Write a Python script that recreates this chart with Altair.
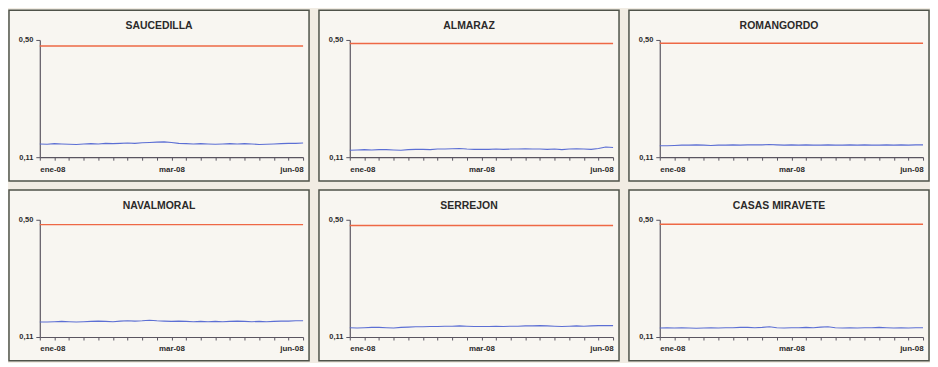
import altair as alt
import pandas as pd

# ---------------- data ----------------
stations = ["SAUCEDILLA", "ALMARAZ", "ROMANGORDO",
            "NAVALMORAL", "SERREJON", "CASAS MIRAVETE"]

# red limit line per station
limit_values = [0.480, 0.488, 0.489, 0.484, 0.481, 0.485]

# blue series: one reading every 5 days, ene-08 .. jun-08
day_step = 5
saucedilla = [0.154, 0.153, 0.155, 0.154, 0.153, 0.152, 0.154, 0.155, 0.154, 0.156,
              0.155, 0.156, 0.157, 0.156, 0.158, 0.159, 0.160, 0.161, 0.159, 0.156,
              0.155, 0.154, 0.155, 0.154, 0.153, 0.154, 0.155, 0.154, 0.155, 0.154,
              0.152, 0.153, 0.154, 0.155, 0.156, 0.156, 0.157]
almaraz = [0.133, 0.134, 0.135, 0.134, 0.135, 0.135, 0.134, 0.133, 0.135, 0.136,
           0.136, 0.135, 0.137, 0.137, 0.138, 0.139, 0.137, 0.136, 0.136, 0.136,
           0.137, 0.136, 0.137, 0.137, 0.138, 0.137, 0.137, 0.136, 0.137, 0.135,
           0.137, 0.138, 0.137, 0.136, 0.139, 0.144, 0.142]
romangordo = [0.148, 0.148, 0.149, 0.150, 0.150, 0.151, 0.150, 0.149, 0.150, 0.150,
              0.151, 0.150, 0.151, 0.151, 0.151, 0.152, 0.151, 0.150, 0.151, 0.150,
              0.151, 0.150, 0.150, 0.151, 0.150, 0.150, 0.151, 0.150, 0.151, 0.150,
              0.150, 0.151, 0.150, 0.151, 0.150, 0.151, 0.151]
navalmoral = [0.160, 0.160, 0.161, 0.162, 0.161, 0.160, 0.161, 0.162, 0.163, 0.162,
              0.161, 0.163, 0.164, 0.163, 0.164, 0.166, 0.164, 0.163, 0.162, 0.163,
              0.162, 0.161, 0.162, 0.161, 0.162, 0.161, 0.162, 0.163, 0.162, 0.161,
              0.162, 0.161, 0.162, 0.163, 0.163, 0.164, 0.164]
serrejon = [0.141, 0.140, 0.141, 0.142, 0.142, 0.141, 0.140, 0.142, 0.143, 0.144,
            0.144, 0.145, 0.145, 0.146, 0.146, 0.147, 0.146, 0.145, 0.145, 0.145,
            0.146, 0.145, 0.146, 0.146, 0.147, 0.147, 0.148, 0.147, 0.146, 0.145,
            0.146, 0.147, 0.146, 0.147, 0.148, 0.148, 0.148]
casas_miravete = [0.140, 0.141, 0.140, 0.141, 0.140, 0.139, 0.140, 0.141, 0.140, 0.141,
                  0.141, 0.142, 0.142, 0.141, 0.142, 0.144, 0.141, 0.140, 0.141, 0.141,
                  0.142, 0.141, 0.143, 0.144, 0.141, 0.140, 0.141, 0.140, 0.141, 0.141,
                  0.142, 0.141, 0.140, 0.141, 0.140, 0.141, 0.141]
series_list = [saucedilla, almaraz, romangordo, navalmoral, serrejon, casas_miravete]

y_domain = [0.11, 0.50]
y_tick_values = [0.11, 0.50]
x_domain = [0, 180]
x_label_days = [0, 90, 180]
x_tick_labels = ["ene-08", "mar-08", "jun-08"]
x_tick_days = list(range(0, 181, 10))

# ---------------- styling ----------------
W, H = 302, 172
X_RANGE = [31, 296]
Y_RANGE = [148, 30]
FONT = "Liberation Sans"
TEXT = "#2b2a2a"
AXIS = "#5a5560"
RED = "#ee6845"
BLUE = "#5c6fd4"

label_expr = " : ".join(
    f"datum.value == {d} ? '{t}'" for d, t in zip(x_label_days, x_tick_labels)
) + " : ''"

x_enc = alt.X(
    "day:Q",
    scale=alt.Scale(domain=x_domain, range=X_RANGE, nice=False, zero=False),
    axis=alt.Axis(orient="bottom", offset=-(H - Y_RANGE[0]), values=x_tick_days,
                  labelExpr=label_expr, labelFlush=True, labelOverlap=False,
                  tickSize=3, tickColor=AXIS, domainColor=AXIS, domainWidth=1.2,
                  labelFont=FONT, labelFontSize=8, labelFontWeight="bold",
                  labelColor=TEXT, labelPadding=5, grid=False, title=None),
)
y_enc = alt.Y(
    "value:Q",
    scale=alt.Scale(domain=y_domain, range=Y_RANGE, nice=False, zero=False),
    axis=alt.Axis(orient="left", offset=-X_RANGE[0], values=y_tick_values,
                  labelExpr="replace(format(datum.value, '.2f'), '.', ',')",
                  tickSize=4, tickColor=AXIS, domainColor=AXIS, domainWidth=1.2,
                  labelFont=FONT, labelFontSize=7.5, labelFontWeight="bold",
                  labelColor=TEXT, labelPadding=3, grid=False, title=None),
)


def panel(name, series, limit):
    df = pd.DataFrame({"day": [i * day_step for i in range(len(series))],
                       "value": series})
    lim = pd.DataFrame({"day": x_domain, "value": [limit, limit]})
    red = alt.Chart(lim).mark_line(color=RED, strokeWidth=1.4).encode(x=x_enc, y=y_enc)
    blue = alt.Chart(df).mark_line(color=BLUE, strokeWidth=1.1).encode(x=x_enc, y=y_enc)
    ttl = alt.Chart(pd.DataFrame({"station": [name]})).mark_text(
        font=FONT, fontSize=10.5, fontWeight="bold", color=TEXT, baseline="middle"
    ).encode(text="station:N", x=alt.value(W / 2), y=alt.value(16))
    return alt.layer(red, blue, ttl).properties(width=W, height=H)


panels = [panel(n, s, l) for n, s, l in zip(stations, series_list, limit_values)]
row1 = alt.hconcat(*panels[:3], spacing=8)
row2 = alt.hconcat(*panels[3:], spacing=8)

chart = alt.vconcat(row1, row2, spacing=7).properties(
    padding=0, background="#f1ece3"
).configure_view(
    fill="#f8f6f1", stroke="#4f534a", strokeWidth=1.5
)

chart.save("out.html", embed_options={"renderer": "svg", "actions": False})
